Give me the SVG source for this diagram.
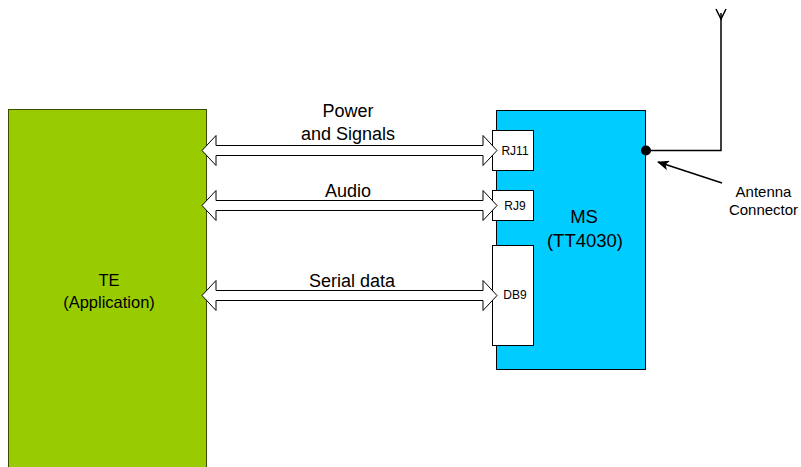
<svg xmlns="http://www.w3.org/2000/svg" width="801" height="467" viewBox="0 0 801 467">
<style>
text{font-family:"Liberation Sans",Arial,sans-serif;fill:#000}
.lbl{font-size:18px;text-anchor:middle}
.con{font-size:12px;text-anchor:middle}
.arr{fill:#fff;stroke:#000;stroke-width:1}
.box{fill:#fff;stroke:#000;stroke-width:1}
</style>
<defs>
<marker id="ah" markerWidth="12" markerHeight="10" refX="11" refY="5" orient="auto" markerUnits="userSpaceOnUse">
<path d="M0,0 L12,5 L0,10 L3,5 Z" fill="#000"/>
</marker>
</defs>
<rect width="801" height="467" fill="#fff"/>
<g id="te">
<rect x="8.5" y="109.5" width="198" height="370" fill="#99cc00" stroke="#3d4a00" stroke-width="1"/>
<text class="lbl" style="font-size:16.5px" x="109" y="286">TE</text>
<text class="lbl" style="font-size:16.5px" x="109" y="308">(Application)</text>
</g>
<g id="ms">
<rect x="496.5" y="110.5" width="149" height="259" fill="#00ccff" stroke="#000" stroke-width="1"/>
<text class="lbl" style="font-size:18.5px" x="584" y="223">MS</text>
<text class="lbl" style="font-size:18.5px" x="585" y="247">(TT4030)</text>
</g>
<g id="rj11">
<rect class="box" x="492.5" y="130.5" width="41" height="40"/>
<text class="con" x="515" y="155">RJ11</text>
</g>
<g id="rj9">
<rect class="box" x="492.5" y="190.5" width="41" height="30"/>
<text class="con" x="515" y="210">RJ9</text>
</g>
<g id="db9">
<rect class="box" x="492.5" y="245.5" width="41" height="100"/>
<text class="con" x="515" y="299">DB9</text>
</g>
<g id="antenna">
<circle cx="646" cy="150.5" r="5" fill="#000"/>
<polyline points="646,150.5 721,150.5 721,13" fill="none" stroke="#000" stroke-width="1.5"/>
<polyline points="716,9 721,19 726,9" fill="none" stroke="#000" stroke-width="1.5"/>
<text x="763.5" y="197" style="font-size:15px;text-anchor:middle">Antenna</text>
<text x="763.5" y="215" style="font-size:15px;text-anchor:middle">Connector</text>
</g>
<g id="connectors">
<path class="arr" d="M202,150.5 L216,135.5 L216,145.5 L483,145.5 L483,135.5 L497,150.5 L483,165.5 L483,155.5 L216,155.5 L216,165.5 Z"/>
<path class="arr" d="M202,205.5 L216,190.5 L216,200.5 L483,200.5 L483,190.5 L497,205.5 L483,220.5 L483,210.5 L216,210.5 L216,220.5 Z"/>
<path class="arr" d="M202,295.5 L216,280.5 L216,290.5 L483,290.5 L483,280.5 L497,295.5 L483,310.5 L483,300.5 L216,300.5 L216,310.5 Z"/>
<line x1="722" y1="183" x2="658" y2="162" stroke="#000" stroke-width="1.5" marker-end="url(#ah)"/>
</g>
<g id="labels">
<text class="lbl" x="348" y="117">Power</text>
<text class="lbl" x="348" y="140">and Signals</text>
<text class="lbl" x="348" y="197">Audio</text>
<text class="lbl" x="352" y="287">Serial data</text>
</g>
</svg>
